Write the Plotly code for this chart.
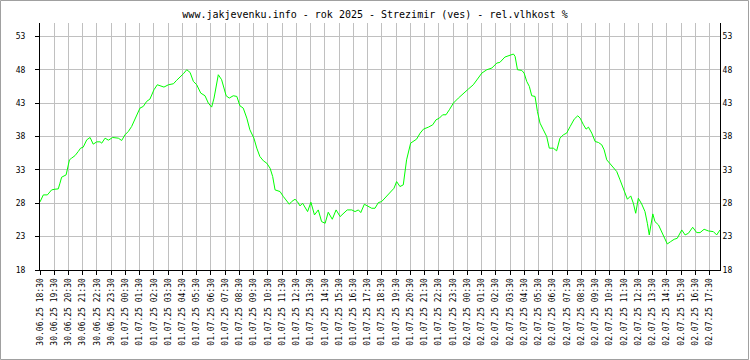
import plotly.graph_objects as go
import pandas as pd

TITLE = "www.jakjevenku.info - rok 2025 - Strezimir (ves) - rel.vlhkost %"

times_0630 = ["18:30", "18:44", "19:01", "19:12", "19:19", "19:33", "19:47", "19:54", "20:01", "20:20",
              "20:34", "20:43", "20:58", "21:11", "21:21", "21:32", "21:47", "22:01", "22:14", "22:29",
              "22:43", "22:50", "23:04", "23:18", "23:36"]
hum_0630 = [28.2, 29.25, 29.25, 29.75, 30.0, 30.1, 30.15, 31.0, 31.9, 32.25,
            34.5, 34.75, 35.15, 35.75, 36.25, 36.4, 37.5, 37.85, 36.85, 37.2,
            37.2, 37.0, 37.75, 37.45, 37.85]

times_0701 = ["00:00", "00:14", "00:28", "00:42", "00:56", "01:17", "01:31", "01:45", "01:59", "02:13",
              "02:30", "02:44", "02:58", "03:12", "03:31", "03:52", "04:05", "04:23", "04:34", "04:48",
              "05:02", "05:16", "05:30", "05:47", "06:05", "06:19", "06:33", "06:43", "07:01", "07:15",
              "07:34", "07:47", "08:04", "08:19", "08:32", "08:46", "09:01", "09:14", "09:31", "09:43",
              "09:56", "10:11", "10:25", "10:39", "10:50", "11:00", "11:21", "11:35", "11:49", "12:00",
              "12:10", "12:24", "12:34", "12:45", "12:56", "13:06", "13:17", "13:31", "13:46", "14:02",
              "14:16", "14:31", "14:44", "15:01", "15:17", "15:34", "15:47", "16:04", "16:23", "16:37",
              "16:51", "17:01", "17:16", "17:33", "17:47", "18:01", "18:15", "18:29", "18:43", "18:57",
              "19:11", "19:21", "19:32", "19:46", "20:00", "20:14", "20:31", "20:43", "20:56", "21:11",
              "21:25", "21:46", "22:04", "22:18", "22:32", "22:46", "23:00", "23:14", "23:31", "23:52"]
hum_0701 = [37.75, 37.4, 38.25, 38.75, 39.5, 41.0, 42.25, 42.5, 43.25, 43.6,
            45.0, 45.75, 45.6, 45.4, 45.75, 45.9, 46.4, 47.0, 47.4, 48.0,
            47.6, 46.25, 45.75, 44.5, 44.1, 43.0, 42.4, 43.75, 47.25, 46.5,
            44.1, 43.75, 44.1, 44.0, 42.6, 42.25, 40.75, 39.0, 37.75, 36.25,
            35.0, 34.35, 34.0, 33.25, 32.0, 30.0, 29.75, 29.0, 28.4, 27.85,
            28.25, 28.6, 28.25, 27.6, 28.0, 27.4, 26.75, 28.15, 26.25, 27.0,
            25.25, 25.0, 26.65, 25.6, 27.0, 26.0, 26.5, 27.0, 27.0, 26.75,
            27.0, 26.6, 27.85, 27.5, 27.25, 27.25, 28.1, 28.25, 28.75, 29.25,
            29.75, 30.25, 31.25, 30.5, 30.75, 34.5, 37.0, 37.35, 37.6, 38.5,
            39.1, 39.4, 39.75, 40.5, 40.75, 41.25, 41.25, 42.0, 43.0, 43.75]

times_0702 = ["00:13", "00:34", "00:55", "01:16", "01:31", "01:52", "02:13", "02:34", "02:47", "03:08",
              "03:27", "03:44", "03:51", "04:01", "04:19", "04:29", "04:40", "04:51", "05:01", "05:15",
              "05:25", "05:36", "05:50", "06:04", "06:15", "06:32", "06:46", "07:00", "07:14", "07:28",
              "07:43", "08:00", "08:15", "08:25", "08:39", "08:50", "09:00", "09:14", "09:28", "09:42",
              "09:56", "10:06", "10:17", "10:31", "10:45", "10:59", "11:13", "11:27", "11:44", "11:58",
              "12:09", "12:19", "12:30", "12:44", "12:58", "13:08", "13:16", "13:31", "13:40", "13:55",
              "14:08", "14:22", "14:32", "14:46", "15:01", "15:14", "15:26", "15:33", "15:47", "16:01",
              "16:19", "16:36", "16:50", "17:07", "17:25", "17:46", "18:00", "18:14"]
hum_0702 = [44.5, 45.1, 45.75, 46.75, 47.5, 48.0, 48.25, 49.0, 49.1, 49.9,
            50.15, 50.35, 50.0, 48.0, 47.9, 47.5, 46.25, 45.5, 44.1, 44.0,
            41.75, 40.0, 39.0, 38.0, 36.25, 36.25, 35.85, 37.75, 38.25, 38.5,
            39.5, 40.6, 41.1, 40.75, 39.75, 39.1, 39.4, 38.5, 37.25, 37.1,
            36.75, 36.0, 34.5, 33.9, 33.35, 32.75, 31.5, 30.25, 28.6, 29.1,
            28.0, 26.5, 28.75, 27.9, 26.75, 25.0, 23.25, 26.4, 25.25, 24.75,
            23.75, 22.5, 21.9, 22.25, 22.6, 22.75, 23.5, 24.0, 23.25, 23.5,
            24.4, 23.6, 23.6, 24.1, 23.85, 23.75, 23.25, 24.0]

y_ticks = [18, 23, 28, 33, 38, 43, 48, 53]
y_range = [18, 55]
x_range = ["2025-06-30 18:30", "2025-07-02 18:14"]

x = (["2025-06-30 " + t for t in times_0630]
     + ["2025-07-01 " + t for t in times_0701]
     + ["2025-07-02 " + t for t in times_0702])
y = hum_0630 + hum_0701 + hum_0702

tick_times = pd.date_range("2025-06-30 18:30", "2025-07-02 17:30", freq="h")
tick_vals = [t.strftime("%Y-%m-%d %H:%M") for t in tick_times]
tick_text = [t.strftime("%d.%m.%y %H:%M") for t in tick_times]

GRID = "#c0c0c0"
FONT = "DejaVu Sans Mono"

fig = go.Figure()
fig.add_trace(go.Scatter(x=x, y=y, mode="lines", line=dict(color="#00ff00", width=1),
                         hoverinfo="skip", showlegend=False))
fig.add_trace(go.Scatter(x=[x[0]], y=[y[0]], yaxis="y2", mode="markers",
                         marker=dict(opacity=0), hoverinfo="skip", showlegend=False))

fig.update_layout(
    width=750, height=360, autosize=False,
    margin=dict(l=40, r=30, t=23, b=90, pad=0),
    paper_bgcolor="white", plot_bgcolor="white",
    font=dict(family=FONT, size=8, color="black"),
    title=dict(text=TITLE, x=0.5, xref="container", xanchor="center",
               y=1 - 14 / 360, yref="container", yanchor="middle",
               font=dict(family=FONT, size=10, color="black")),
    xaxis=dict(type="date", range=x_range, tickmode="array", tickvals=tick_vals, ticktext=tick_text,
               tickangle=-90, ticks="outside", ticklen=4, tickcolor="black", tickwidth=1,
               showgrid=True, gridcolor=GRID, gridwidth=1, showline=True, linecolor="black",
               linewidth=1, zeroline=False, tickfont=dict(family=FONT, size=8, color="black")),
    yaxis=dict(range=y_range, tickmode="array", tickvals=y_ticks, ticks="outside", ticklen=4,
               tickcolor="black", tickwidth=1, showgrid=True, gridcolor=GRID, gridwidth=1,
               showline=True, linecolor="black", linewidth=1, zeroline=False,
               ticklabelstandoff=8, tickfont=dict(family=FONT, size=8, color="black")),
    yaxis2=dict(range=y_range, overlaying="y", side="right", tickmode="array", tickvals=y_ticks,
                ticks="", showgrid=False, showline=True, linecolor="black", linewidth=1,
                zeroline=False, tickfont=dict(family=FONT, size=8, color="black")),
    shapes=[dict(type="rect", xref="paper", yref="paper",
                 x0=(0.5 - 40) / 680, x1=(748.5 - 40) / 680,
                 y0=(270 - 359.5) / 247, y1=(270 - 0.5) / 247,
                 line=dict(color="#a0a0a0", width=1), fillcolor="rgba(0,0,0,0)", layer="below")],
)

fig.write_html("out.html", config={"displayModeBar": False, "staticPlot": True},
               post_script="document.body.style.margin='0';document.body.style.overflow='hidden';")
